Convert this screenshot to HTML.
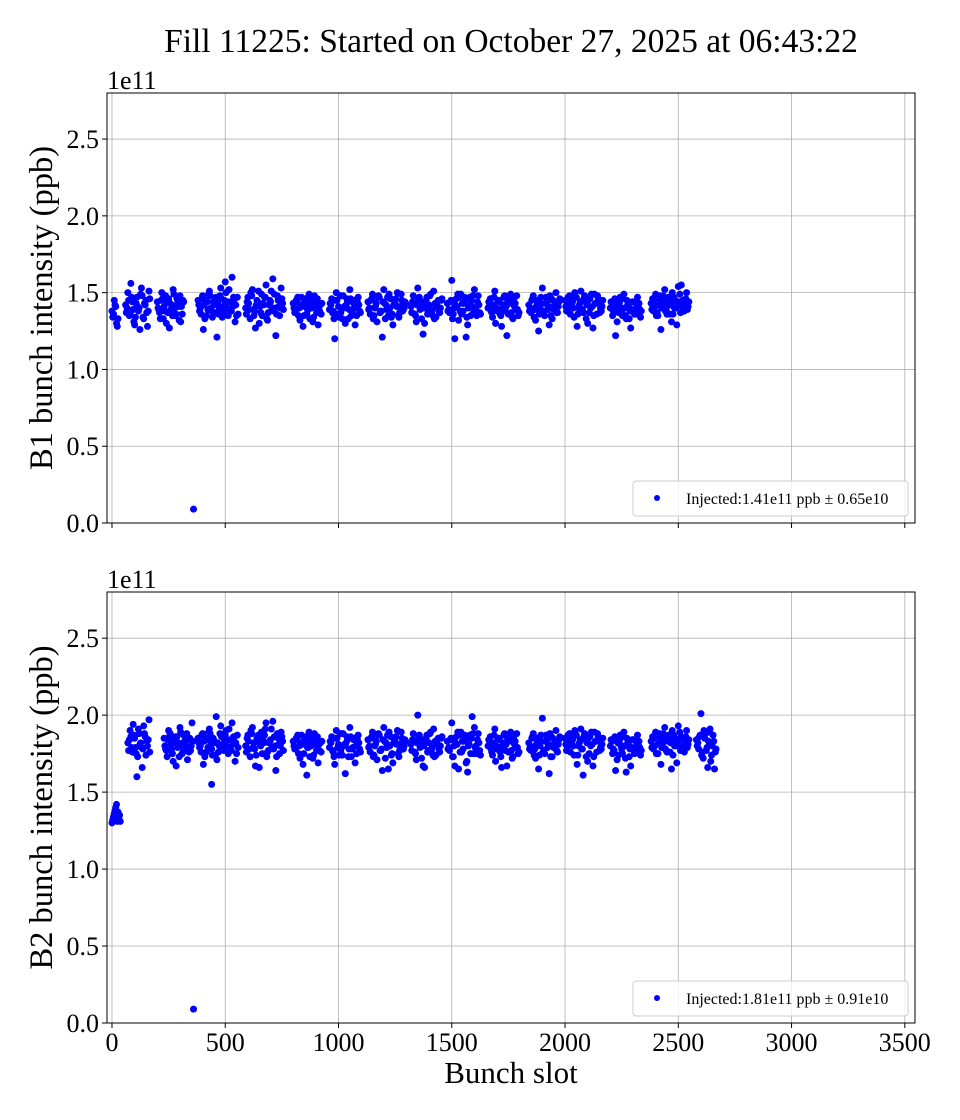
<!DOCTYPE html>
<html><head><meta charset="utf-8">
<style>
html,body{margin:0;padding:0;background:#fff;}
svg{display:block;font-family:"Liberation Serif","DejaVu Serif",serif;}
</style></head>
<body>
<svg id="fig" width="960" height="1120" viewBox="0 0 960 1120" xmlns="http://www.w3.org/2000/svg">
<rect width="960" height="1120" fill="#fff"/>
<text x="511" y="52" font-size="33.5" text-anchor="middle">Fill 11225: Started on October 27, 2025 at 06:43:22</text>
<text x="511" y="1083" font-size="31" text-anchor="middle">Bunch slot</text>
</svg>
<script>
// ---- data ----
const xTicks = [0,500,1000,1500,2000,2500,3000,3500];
const yTicks = [0.0,0.5,1.0,1.5,2.0,2.5];
const yTickLabels = ["0.0","0.5","1.0","1.5","2.0","2.5"];
const slotSpacing = 10;

const b1Trains = [[0,3],[60,11],[200,12],[380,18],[590,17],[800,13],[960,14],[1130,17],[1320,14],[1480,15],[1660,14],[1840,14],[2000,17],[2200,14],[2380,17]];
const b1ValuesA = [
1.38,1.45,1.30,
1.42,1.50,1.36,1.44,1.29,1.47,1.40,1.53,1.33,1.45,1.38,
1.44,1.37,1.50,1.41,1.30,1.46,1.39,1.52,1.35,1.43,1.48,1.36,
1.45,1.40,1.48,1.33,1.44,1.51,1.38,1.42,1.47,1.36,1.53,1.41,1.57,1.44,1.39,1.60,1.46,1.35,
1.40,1.47,1.33,1.52,1.38,1.45,1.30,1.49,1.42,1.55,1.37,1.44,1.59,1.40,1.48,1.35,1.46,
1.43,1.38,1.47,1.32,1.41,1.45,1.36,1.49,1.40,1.34,1.44,1.29,1.42,
1.39,1.46,1.33,1.50,1.41,1.37,1.48,1.30,1.44,1.52,1.38,1.45,1.35,1.42,
1.44,1.36,1.49,1.40,1.31,1.47,1.38,1.52,1.42,1.35,1.46,1.29,1.43,1.50,1.37,1.45,1.40,
1.41,1.48,1.35,1.53,1.39,1.44,1.30,1.47,1.42,1.37,1.51,1.34,1.45,1.40,
1.43,1.37,1.58,1.40,1.46,1.32,1.49,1.38,1.44,1.29,1.47,1.41,1.52,1.35,1.42,
1.40,1.46,1.34,1.51,1.38,1.44,1.28,1.47,1.41,1.36,1.49,1.33,1.43,1.39,
1.42,1.37,1.48,1.32,1.45,1.40,1.53,1.35,1.43,1.29,1.46,1.39,1.50,1.41,
1.45,1.39,1.48,1.42,1.34,1.47,1.40,1.51,1.37,1.44,1.30,1.46,1.41,1.49,1.36,1.43,1.38,
1.40,1.35,1.46,1.31,1.43,1.38,1.49,1.33,1.41,1.27,1.44,1.37,1.47,1.39,
1.43,1.38,1.49,1.35,1.46,1.41,1.52,1.36,1.44,1.31,1.47,1.40,1.54,1.37,1.45,1.42,1.39];
const b1ValuesB = [
1.34,1.42,1.28,
1.37,1.45,1.56,1.39,1.34,1.41,1.26,1.48,1.43,1.37,1.51,
1.40,1.33,1.46,1.38,1.44,1.27,1.42,1.49,1.36,1.41,1.31,1.45,
1.42,1.36,1.26,1.45,1.39,1.48,1.34,1.43,1.21,1.40,1.46,1.37,1.50,1.35,1.44,1.41,1.31,1.47,
1.36,1.43,1.50,1.39,1.27,1.44,1.41,1.35,1.47,1.33,1.42,1.51,1.38,1.22,1.45,1.40,1.43,
1.40,1.45,1.35,1.42,1.28,1.46,1.39,1.33,1.43,1.48,1.37,1.41,1.36,
1.43,1.37,1.20,1.45,1.34,1.48,1.40,1.42,1.33,1.46,1.39,1.29,1.44,1.38,
1.39,1.45,1.33,1.41,1.47,1.37,1.21,1.43,1.39,1.49,1.34,1.42,1.46,1.35,1.41,1.38,1.44,
1.37,1.43,1.31,1.46,1.40,1.23,1.44,1.36,1.48,1.39,1.33,1.42,1.38,1.45,
1.38,1.44,1.33,1.20,1.41,1.47,1.36,1.43,1.21,1.40,1.35,1.48,1.39,1.44,1.37,
1.44,1.38,1.42,1.30,1.45,1.36,1.40,1.48,1.22,1.43,1.37,1.46,1.39,1.35,
1.38,1.45,1.34,1.41,1.25,1.47,1.36,1.43,1.39,1.48,1.33,1.42,1.37,1.44,
1.41,1.47,1.36,1.44,1.50,1.28,1.42,1.38,1.46,1.33,1.45,1.40,1.27,1.43,1.48,1.37,1.41,
1.44,1.38,1.22,1.42,1.47,1.35,1.40,1.45,1.33,1.39,1.44,1.36,1.41,1.34,
1.39,1.45,1.35,1.42,1.26,1.48,1.38,1.43,1.36,1.50,1.40,1.29,1.44,1.55,1.38,1.46,1.41];
const b1ValuesC = [
1.36,1.41,1.33,
1.40,1.35,1.47,1.31,1.43,1.38,1.49,1.34,1.42,1.28,1.46,
1.39,1.45,1.33,1.48,1.37,1.43,1.35,1.40,1.46,1.32,1.41,1.44,
1.38,1.46,1.42,1.35,1.49,1.40,1.44,1.37,1.43,1.48,1.34,1.45,1.40,1.52,1.38,1.47,1.42,1.36,
1.44,1.39,1.48,1.35,1.42,1.51,1.37,1.43,1.47,1.32,1.45,1.40,1.49,1.36,1.41,1.53,1.39,
1.37,1.44,1.40,1.47,1.35,1.42,1.39,1.45,1.31,1.41,1.46,1.38,1.43,
1.42,1.38,1.45,1.36,1.48,1.33,1.41,1.46,1.39,1.35,1.43,1.40,1.47,1.37,
1.40,1.46,1.35,1.43,1.48,1.38,1.44,1.33,1.47,1.40,1.36,1.45,1.41,1.34,1.49,1.39,1.43,
1.44,1.36,1.42,1.47,1.33,1.40,1.45,1.38,1.49,1.35,1.43,1.41,1.37,1.46,
1.39,1.45,1.36,1.42,1.49,1.38,1.43,1.47,1.34,1.41,1.45,1.37,1.40,1.48,1.36,
1.43,1.37,1.47,1.40,1.45,1.35,1.42,1.38,1.44,1.46,1.34,1.41,1.48,1.37,
1.40,1.46,1.39,1.44,1.36,1.43,1.38,1.47,1.41,1.35,1.45,1.42,1.37,1.46,
1.38,1.43,1.46,1.40,1.47,1.36,1.44,1.39,1.48,1.42,1.37,1.49,1.35,1.43,1.46,1.40,1.45,
1.43,1.39,1.45,1.37,1.40,1.46,1.35,1.42,1.38,1.44,1.36,1.41,1.43,1.38,
1.46,1.41,1.37,1.48,1.40,1.44,1.39,1.47,1.42,1.36,1.45,1.43,1.49,1.41,1.38,1.50,1.44];
const b1ExtraSlots = [360];
const b1ExtraValues = [0.09];

const b2Trains = [[0,4],[70,10],[230,13],[380,18],[590,17],[800,13],[960,14],[1130,17],[1320,14],[1480,15],[1660,14],[1840,14],[2000,17],[2200,14],[2380,17],[2580,9]];
const b2ValuesA = [
1.30,1.36,1.42,1.33,
1.82,1.90,1.76,1.85,1.60,1.88,1.79,1.93,1.74,1.84,
1.85,1.77,1.90,1.81,1.70,1.86,1.79,1.92,1.75,1.83,1.88,1.76,1.80,
1.85,1.80,1.88,1.73,1.84,1.91,1.78,1.82,1.99,1.76,1.93,1.81,1.87,1.84,1.79,1.95,1.86,1.75,
1.80,1.87,1.73,1.92,1.78,1.85,1.66,1.89,1.82,1.95,1.77,1.84,1.96,1.80,1.88,1.75,1.86,
1.83,1.78,1.87,1.72,1.81,1.85,1.61,1.89,1.80,1.74,1.84,1.69,1.82,
1.79,1.86,1.73,1.90,1.81,1.77,1.88,1.62,1.84,1.92,1.78,1.85,1.75,1.82,
1.84,1.76,1.89,1.80,1.71,1.87,1.78,1.92,1.82,1.65,1.86,1.69,1.83,1.90,1.77,1.85,1.80,
1.81,1.88,1.75,2.00,1.79,1.84,1.66,1.87,1.82,1.77,1.91,1.74,1.85,1.80,
1.83,1.77,1.95,1.80,1.86,1.65,1.89,1.78,1.84,1.63,1.87,1.99,1.92,1.75,1.82,
1.80,1.86,1.74,1.91,1.78,1.84,1.66,1.87,1.81,1.76,1.89,1.73,1.83,1.79,
1.82,1.77,1.88,1.72,1.85,1.80,1.98,1.75,1.83,1.62,1.86,1.79,1.90,1.81,
1.85,1.79,1.88,1.82,1.74,1.87,1.80,1.91,1.61,1.84,1.70,1.86,1.81,1.89,1.76,1.83,1.78,
1.80,1.75,1.86,1.71,1.83,1.78,1.89,1.63,1.81,1.67,1.84,1.77,1.87,1.79,
1.83,1.78,1.89,1.75,1.86,1.81,1.92,1.76,1.84,1.65,1.87,1.80,1.93,1.77,1.85,1.82,1.79,
1.84,1.78,2.01,1.72,1.88,1.66,1.91,1.80,1.65];
const b2ValuesB = [
1.32,1.38,1.31,1.35,
1.77,1.86,1.94,1.79,1.73,1.81,1.66,1.88,1.83,1.97,
1.80,1.73,1.86,1.78,1.84,1.67,1.82,1.89,1.76,1.81,1.71,1.85,1.95,
1.82,1.76,1.68,1.85,1.79,1.88,1.74,1.83,1.71,1.80,1.86,1.77,1.90,1.75,1.84,1.81,1.70,1.87,
1.76,1.83,1.90,1.79,1.67,1.84,1.81,1.75,1.87,1.73,1.82,1.91,1.78,1.64,1.85,1.80,1.83,
1.80,1.85,1.75,1.82,1.68,1.86,1.79,1.73,1.83,1.88,1.77,1.81,1.76,
1.83,1.77,1.68,1.85,1.74,1.88,1.80,1.82,1.73,1.86,1.79,1.69,1.84,1.78,
1.79,1.85,1.73,1.81,1.87,1.77,1.64,1.83,1.79,1.89,1.74,1.82,1.86,1.75,1.81,1.78,1.84,
1.77,1.83,1.71,1.86,1.80,1.67,1.84,1.76,1.88,1.79,1.73,1.82,1.78,1.85,
1.78,1.84,1.73,1.67,1.81,1.87,1.76,1.83,1.69,1.80,1.75,1.88,1.79,1.84,1.77,
1.84,1.78,1.82,1.70,1.85,1.76,1.80,1.88,1.67,1.83,1.77,1.86,1.79,1.75,
1.78,1.85,1.74,1.81,1.65,1.87,1.76,1.83,1.79,1.88,1.73,1.82,1.77,1.84,
1.81,1.87,1.76,1.84,1.90,1.68,1.82,1.78,1.86,1.73,1.85,1.80,1.67,1.83,1.88,1.77,1.81,
1.84,1.78,1.64,1.82,1.87,1.75,1.80,1.85,1.73,1.79,1.84,1.76,1.81,1.74,
1.79,1.85,1.75,1.82,1.68,1.88,1.78,1.83,1.76,1.90,1.80,1.69,1.84,1.86,1.78,1.86,1.81,
1.80,1.86,1.74,1.90,1.77,1.83,1.70,1.87,1.76];
const b2ValuesC = [
1.34,1.40,1.37,1.31,
1.84,1.79,1.87,1.75,1.91,1.82,1.78,1.86,1.80,1.76,
1.78,1.84,1.88,1.75,1.82,1.86,1.73,1.80,1.87,1.79,1.84,1.77,1.83,
1.79,1.87,1.83,1.76,1.89,1.81,1.85,1.74,1.82,1.88,1.78,1.84,1.80,1.91,1.77,1.86,1.82,1.79,
1.85,1.78,1.88,1.82,1.74,1.87,1.80,1.84,1.91,1.76,1.83,1.79,1.86,1.73,1.81,1.89,1.77,
1.78,1.84,1.80,1.87,1.75,1.82,1.79,1.85,1.72,1.81,1.86,1.77,1.83,
1.82,1.76,1.85,1.79,1.88,1.74,1.81,1.86,1.78,1.73,1.84,1.80,1.87,1.76,
1.80,1.86,1.74,1.83,1.88,1.77,1.84,1.72,1.87,1.80,1.75,1.85,1.81,1.73,1.89,1.78,1.83,
1.84,1.76,1.82,1.87,1.72,1.80,1.85,1.77,1.89,1.74,1.83,1.81,1.76,1.86,
1.79,1.85,1.73,1.82,1.89,1.76,1.83,1.87,1.70,1.81,1.85,1.75,1.80,1.88,1.74,
1.83,1.76,1.87,1.80,1.85,1.73,1.82,1.77,1.84,1.86,1.72,1.81,1.88,1.76,
1.80,1.86,1.78,1.84,1.74,1.83,1.77,1.87,1.81,1.73,1.85,1.82,1.76,1.86,
1.77,1.83,1.86,1.80,1.87,1.74,1.84,1.78,1.88,1.82,1.75,1.89,1.73,1.83,1.86,1.79,1.85,
1.83,1.77,1.85,1.74,1.80,1.86,1.72,1.82,1.78,1.84,1.75,1.81,1.83,1.77,
1.86,1.80,1.75,1.88,1.79,1.84,1.77,1.87,1.82,1.74,1.85,1.83,1.89,1.80,1.76,1.90,1.84,
1.82,1.87,1.76,1.85,1.79,1.89,1.74,1.83,1.78];
const b2ExtraSlots = [360,440];
const b2ExtraValues = [0.09,1.55];

const b1Legend = "Injected:1.41e11 ppb \u00b1 0.65e10";
const b2Legend = "Injected:1.81e11 ppb \u00b1 0.91e10";

// ---- drawing ----
const NS = "http://www.w3.org/2000/svg";
const svg = document.getElementById('fig');
const X0 = 107, X1 = 915, XMIN = -22, XMAX = 3545;
const YMIN = 0, YMAX = 2.8;
function xScale(v){ return X0 + (v - XMIN) / (XMAX - XMIN) * (X1 - X0); }
function mk(tag, attrs, parent){
  const e = document.createElementNS(NS, tag);
  for (const k in attrs) e.setAttribute(k, attrs[k]);
  (parent || svg).appendChild(e);
  return e;
}

function drawPanel(top, bottom, trains, valueSets, exSlots, exVals, ylabel, legendText, showXLabels, prefix){
  const yScale = v => bottom - (v - YMIN) / (YMAX - YMIN) * (bottom - top);
  const g = mk('g', {});
  
  
  xTicks.forEach(t => {
    const l = mk('line', {x1:xScale(t), x2:xScale(t), y1:top, y2:bottom, stroke:'#b0b0b0', 'stroke-width':0.8}, g);
    
    
  });
  yTicks.forEach(t => {
    const l = mk('line', {x1:X0, x2:X1, y1:yScale(t), y2:yScale(t), stroke:'#b0b0b0', 'stroke-width':0.8}, g);
    
    
  });
  const pg = mk('g', {fill:'#0000ff'}, g);
  
  
  const nSets = valueSets.length;
  valueSets.forEach((vals, si) => {
    let idx = 0;
    trains.forEach(tr => {
      for (let i = 0; i < tr[1]; i++) {
        const slot = tr[0] + i * slotSpacing + si * slotSpacing / nSets;
        const c = mk('circle', {cx:xScale(slot), cy:yScale(vals[idx]), r:3.5}, pg);
        
        
        idx++;
      }
    });
  });
  exSlots.forEach((s, i) => {
    const c = mk('circle', {cx:xScale(s), cy:yScale(exVals[i]), r:3.5}, pg);
    
    
  });
  const fr = mk('rect', {x:X0, y:top, width:X1-X0, height:bottom-top, fill:'none', stroke:'#000', 'stroke-width':1}, g);
  
  
  xTicks.forEach(t => {
    mk('line', {x1:xScale(t), x2:xScale(t), y1:bottom, y2:bottom+5, stroke:'#000', 'stroke-width':1}, g);
    if (showXLabels) {
      const tx = mk('text', {x:xScale(t), y:bottom+28, 'font-size':26, 'text-anchor':'middle'}, g);
      tx.textContent = t;
      
      
    }
  });
  yTicks.forEach((t, i) => {
    mk('line', {x1:X0-5, x2:X0, y1:yScale(t), y2:yScale(t), stroke:'#000', 'stroke-width':1}, g);
    const tx = mk('text', {x:X0-8, y:yScale(t)+9, 'font-size':26, 'text-anchor':'end'}, g);
    tx.textContent = yTickLabels[i];
    
    
  });
  const off = mk('text', {x:107, y:top-4, 'font-size':26}, g);
  off.textContent = '1e11';
  
  
  const yl = mk('text', {x:0, y:0, 'font-size':32.5, 'text-anchor':'middle', transform:'translate(52,' + ((top+bottom)/2) + ') rotate(-90)'}, g);
  yl.textContent = ylabel;
  
  
  const lg = mk('g', {}, g);
  
  
  mk('rect', {x:633, y:bottom-42, width:275, height:35, rx:3, fill:'#fff', 'fill-opacity':0.8, stroke:'#cccccc', 'stroke-width':1}, lg);
  const lm = mk('circle', {cx:657, cy:bottom-25, r:3}, lg);
  lm.setAttribute('fill', '#0000ff');
  
  
  const lt = mk('text', {x:686, y:bottom-19, 'font-size':16}, lg);
  lt.textContent = legendText;
  
  
}

drawPanel(93, 523, b1Trains, [b1ValuesA, b1ValuesB, b1ValuesC], b1ExtraSlots, b1ExtraValues, 'B1 bunch intensity (ppb)', b1Legend, false, 'b1');
drawPanel(592, 1023, b2Trains, [b2ValuesA, b2ValuesB, b2ValuesC], b2ExtraSlots, b2ExtraValues, 'B2 bunch intensity (ppb)', b2Legend, true, 'b2');
</script>
</body></html>
